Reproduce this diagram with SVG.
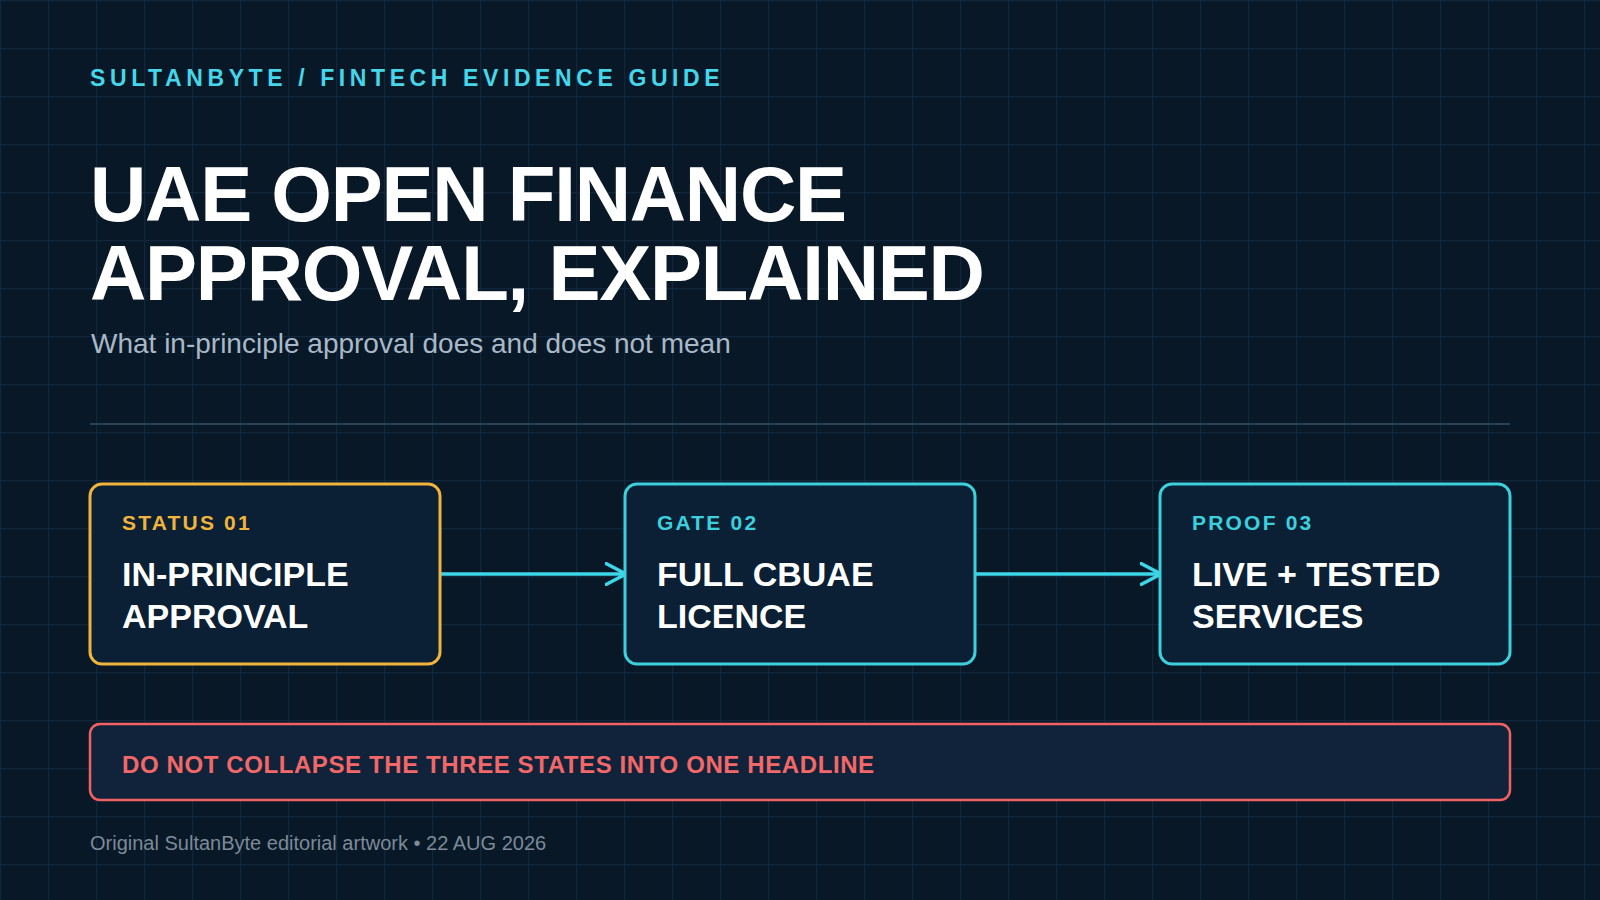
<svg xmlns="http://www.w3.org/2000/svg" width="1600" height="900" viewBox="0 0 1600 900">
  <defs>
    <pattern id="grid" x="0" y="0" width="48" height="48" patternUnits="userSpaceOnUse">
      <path d="M0 0.5 H48 M0.5 0 V48" fill="none" stroke="#11263c" stroke-width="1.5"/>
    </pattern>
    <marker id="chev" viewBox="0 0 24 24" refX="21" refY="12" markerWidth="24" markerHeight="24" markerUnits="userSpaceOnUse" orient="auto">
      <path d="M1 1.5 L21 12 L1 22.5" fill="none" stroke="#3dd6e8" stroke-width="3.5" stroke-linecap="round" stroke-linejoin="round"/>
    </marker>
    <style>
      .sans { font-family: "Liberation Sans", Arial, Helvetica, sans-serif; }
      .eyebrow { font-size: 23px; font-weight: 700; letter-spacing: 4.6px; fill: #45d6ea; }
      .title { font-size: 78px; font-weight: 700; letter-spacing: -1.25px; fill: #ffffff; }
      .subtitle { font-size: 28px; fill: #a8b8c8; }
      .card { fill: #0b2034; stroke-width: 3; }
      .card-amber { stroke: #f0b43c; }
      .card-teal { stroke: #3ecfdc; }
      .label { font-size: 21px; font-weight: 700; letter-spacing: 2.2px; }
      .label-amber { fill: #f0b43c; }
      .label-teal { fill: #3cd0de; }
      .card-title { font-size: 34px; font-weight: 700; fill: #ffffff; }
      .conn { fill: none; stroke: #3dd6e8; stroke-width: 3.5; }
      .alert { fill: #10233a; stroke: #f06262; stroke-width: 2.5; }
      .alert-text { font-size: 24px; font-weight: 700; letter-spacing: 0.6px; fill: #f26868; }
      .footer { font-size: 20px; fill: #7d8a98; }
    </style>
  </defs>

  <rect x="0" y="0" width="1600" height="900" fill="#081827"/>
  <rect x="0" y="0" width="1600" height="900" fill="url(#grid)"/>

  <g id="header">
    <text class="sans eyebrow" x="90" y="86">SULTANBYTE / FINTECH EVIDENCE GUIDE</text>
    <text class="sans title"><tspan x="90" y="221">UAE OPEN FINANCE</tspan><tspan x="90" y="300">APPROVAL, EXPLAINED</tspan></text>
    <text class="sans subtitle" x="91" y="353">What in-principle approval does and does not mean</text>
    <line x1="90" y1="424" x2="1510" y2="424" stroke="#2a4156" stroke-width="2"/>
  </g>

  <g id="connectors">
    <line class="conn" x1="440" y1="574" x2="626" y2="574" marker-end="url(#chev)"/>
    <line class="conn" x1="975" y1="574" x2="1161" y2="574" marker-end="url(#chev)"/>
  </g>

  <g id="node-status">
    <rect class="card card-amber" x="90" y="484" width="350" height="180" rx="12"/>
    <text class="sans label label-amber" x="122" y="530">STATUS 01</text>
    <text class="sans card-title" x="122" y="586">IN-PRINCIPLE</text>
    <text class="sans card-title" x="122" y="628">APPROVAL</text>
  </g>

  <g id="node-gate">
    <rect class="card card-teal" x="625" y="484" width="350" height="180" rx="12"/>
    <text class="sans label label-teal" x="657" y="530">GATE 02</text>
    <text class="sans card-title" x="657" y="586">FULL CBUAE</text>
    <text class="sans card-title" x="657" y="628">LICENCE</text>
  </g>

  <g id="node-proof">
    <rect class="card card-teal" x="1160" y="484" width="350" height="180" rx="12"/>
    <text class="sans label label-teal" x="1192" y="530">PROOF 03</text>
    <text class="sans card-title" x="1192" y="586">LIVE + TESTED</text>
    <text class="sans card-title" x="1192" y="628">SERVICES</text>
  </g>

  <g id="node-warning">
    <rect class="alert" x="90" y="724" width="1420" height="76" rx="10"/>
    <text class="sans alert-text" x="122" y="773">DO NOT COLLAPSE THE THREE STATES INTO ONE HEADLINE</text>
  </g>

  <g id="footer">
    <text class="sans footer" x="90" y="850">Original SultanByte editorial artwork • 22 AUG 2026</text>
  </g>
</svg>
